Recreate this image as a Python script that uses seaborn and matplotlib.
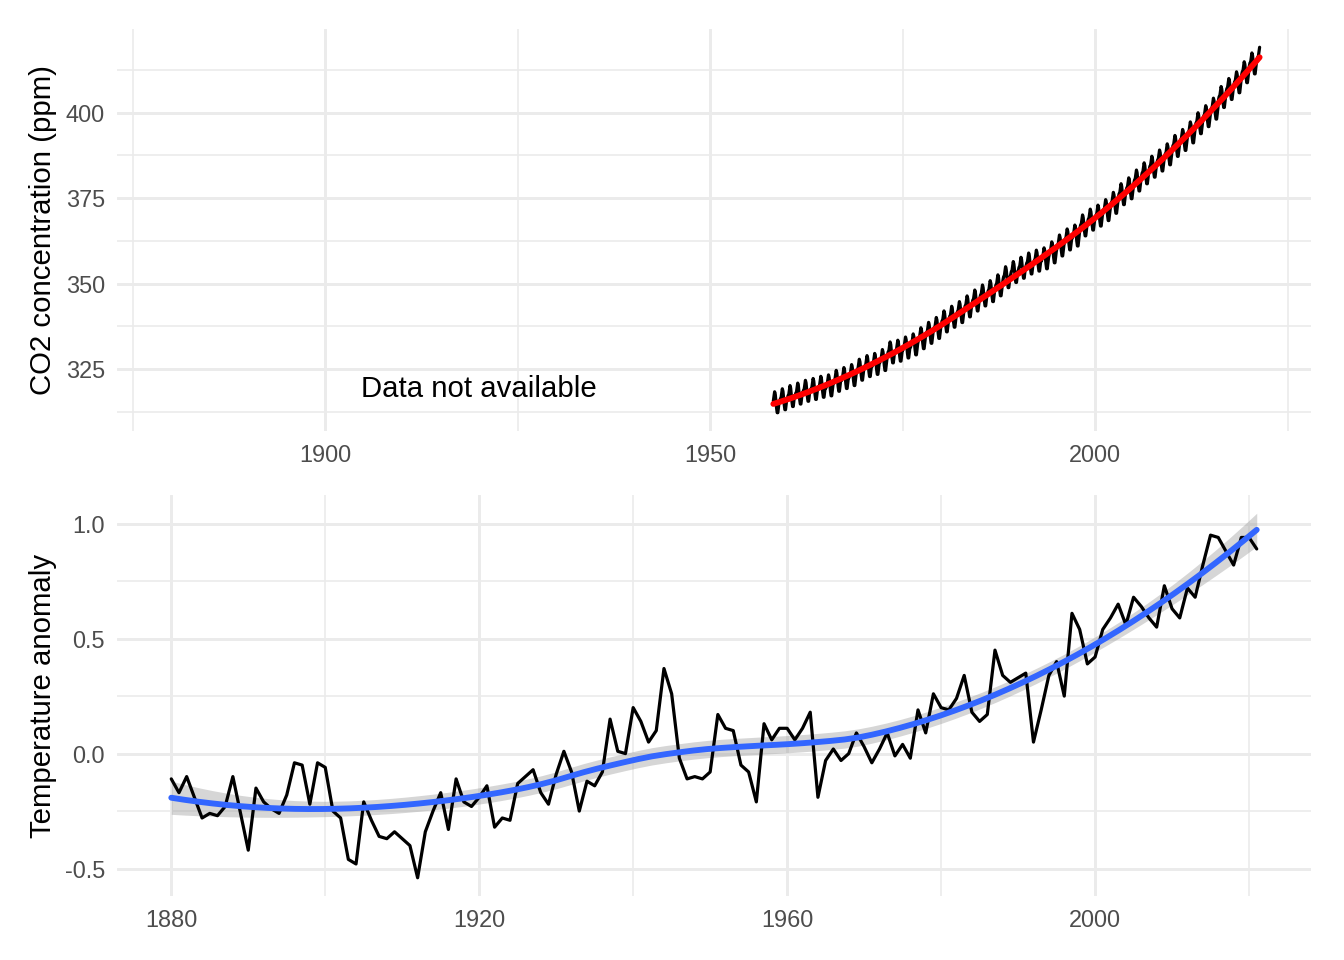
import numpy as np
import pandas as pd
import matplotlib
matplotlib.use("Agg")
import matplotlib.pyplot as plt
from matplotlib.ticker import FixedLocator
import seaborn as sns

# --- Data ---
# Annual temperature anomaly, 1880-2021
temp_years = list(range(1880, 2022))
temp_anomaly = [
    -0.11, -0.17, -0.10, -0.19, -0.28, -0.26, -0.27, -0.23, -0.10, -0.26,  # 1880s
    -0.42, -0.15, -0.21, -0.24, -0.26, -0.18, -0.04, -0.05, -0.22, -0.04,  # 1890s
    -0.06, -0.25, -0.28, -0.46, -0.48, -0.21, -0.29, -0.36, -0.37, -0.34,  # 1900s
    -0.37, -0.40, -0.54, -0.34, -0.25, -0.17, -0.33, -0.11, -0.21, -0.23,  # 1910s
    -0.19, -0.14, -0.32, -0.28, -0.29, -0.13, -0.10, -0.07, -0.17, -0.22,  # 1920s
    -0.09, 0.01, -0.08, -0.25, -0.12, -0.14, -0.08, 0.15, 0.01, 0.00,      # 1930s
    0.20, 0.14, 0.05, 0.10, 0.37, 0.26, -0.02, -0.11, -0.10, -0.11,        # 1940s
    -0.08, 0.17, 0.11, 0.10, -0.05, -0.08, -0.21, 0.13, 0.06, 0.11,        # 1950s
    0.11, 0.06, 0.11, 0.18, -0.19, -0.03, 0.02, -0.03, 0.00, 0.09,         # 1960s
    0.03, -0.04, 0.02, 0.09, -0.01, 0.04, -0.02, 0.19, 0.09, 0.26,         # 1970s
    0.20, 0.19, 0.24, 0.34, 0.18, 0.14, 0.17, 0.45, 0.34, 0.31,            # 1980s
    0.33, 0.35, 0.05, 0.19, 0.34, 0.40, 0.25, 0.61, 0.54, 0.39,            # 1990s
    0.42, 0.54, 0.59, 0.65, 0.56, 0.68, 0.64, 0.59, 0.55, 0.73,            # 2000s
    0.63, 0.59, 0.72, 0.68, 0.82, 0.95, 0.94, 0.88, 0.82, 0.94,            # 2010s
    0.94, 0.89,                                                            # 2020s
]

# Mauna Loa CO2: annual means (ppm) and typical monthly offset from the annual mean
co2_years = list(range(1958, 2022))
co2_annual = [
    315.10, 315.98, 316.91, 317.64, 318.45, 318.99, 319.62, 320.04, 321.37, 322.18,
    323.05, 324.62, 325.68, 326.32, 327.46, 329.68, 330.19, 331.12, 332.03, 333.84,
    335.41, 336.84, 338.76, 340.12, 341.48, 343.15, 344.87, 346.35, 347.61, 349.31,
    351.69, 353.20, 354.45, 355.70, 356.54, 357.21, 358.96, 360.97, 362.74, 363.88,
    366.84, 368.54, 369.71, 371.32, 373.45, 375.98, 377.70, 379.98, 382.09, 384.02,
    385.83, 387.64, 390.10, 391.85, 394.06, 396.74, 398.81, 401.01, 404.41, 406.76,
    408.72, 411.66, 414.24, 415.90,
]
co2_month_offset = [-0.61, 0.31, 0.53, 1.88, 3.22, 2.48, 0.33, -1.49, -2.90, -2.91, -1.17, 0.32]
co2_first_month = 3   # record starts March 1958
co2_last_month = 5    # and ends May 2021

annotation_text = "Data not available"

# --- Build tables ---
temp_df = pd.DataFrame({"year": temp_years, "temp_anomaly": temp_anomaly})

rows = []
for yr, mean in zip(co2_years, co2_annual):
    for m, off in enumerate(co2_month_offset, start=1):
        if yr == co2_years[0] and m < co2_first_month:
            continue
        if yr == co2_years[-1] and m > co2_last_month:
            continue
        rows.append({"date": yr + (m - 0.5) / 12, "co2": mean + off})
co2_df = pd.DataFrame(rows)


def loess_matrix(x, x0s, span=0.75):
    """Operator matrix of a local quadratic loess fit (tricube weights)."""
    n = len(x)
    q = int(np.floor(n * span))
    L = np.zeros((len(x0s), n))
    for i, x0 in enumerate(x0s):
        d = np.abs(x - x0)
        h = np.sort(d)[q - 1]
        w = np.clip(1 - (d / h) ** 3, 0, None) ** 3
        X = np.column_stack([np.ones(n), x - x0, (x - x0) ** 2])
        XW = X * w[:, None]
        L[i] = np.linalg.solve(X.T @ XW, XW.T)[0]
    return L


def smooth(x, y, n_out=80, se=False):
    x = np.asarray(x, float)
    y = np.asarray(y, float)
    grid = np.linspace(x.min(), x.max(), n_out)
    L_grid = loess_matrix(x, grid)
    fit = L_grid @ y
    if not se:
        return grid, fit, None, None
    L_data = loess_matrix(x, x)
    resid = y - L_data @ y
    M = np.eye(len(x)) - L_data
    delta1 = np.trace(M.T @ M)
    s = np.sqrt(np.sum(resid ** 2) / delta1)
    se_fit = s * np.sqrt(np.sum(L_grid ** 2, axis=1))
    t = 1.98
    return grid, fit, fit - t * se_fit, fit + t * se_fit


co2_x, co2_fit, _, _ = smooth(co2_df["date"], co2_df["co2"])
tmp_x, tmp_fit, tmp_lo, tmp_hi = smooth(temp_df["year"], temp_df["temp_anomaly"], se=True)


def expand(lo, hi, mult=0.05):
    pad = (hi - lo) * mult
    return lo - pad, hi + pad


# --- Style ---
sns.set_theme(style="white")
plt.rcParams["font.family"] = ["Liberation Sans", "DejaVu Sans"]
GRID = "#EBEBEB"
TICK_COL = "#4D4D4D"

fig = plt.figure(figsize=(7, 5), dpi=192)
ax_co2 = fig.add_axes([117 / 1344, 1 - 431 / 960, 1194 / 1344, 402 / 960])
ax_tmp = fig.add_axes([117 / 1344, 1 - 896 / 960, 1194 / 1344, 401 / 960])

xlim = expand(min(temp_years), max(temp_years))


def style_axis(ax, xmajor, xminor, ymajor, yminor, ylabel):
    ax.set_facecolor("white")
    for sp in ax.spines.values():
        sp.set_visible(False)
    ax.xaxis.set_major_locator(FixedLocator(xmajor))
    ax.xaxis.set_minor_locator(FixedLocator(xminor))
    ax.yaxis.set_major_locator(FixedLocator(ymajor))
    ax.yaxis.set_minor_locator(FixedLocator(yminor))
    ax.grid(which="major", color=GRID, linewidth=1.1)
    ax.grid(which="minor", color=GRID, linewidth=0.6)
    ax.set_axisbelow(True)
    ax.tick_params(which="both", length=0, labelsize=8.8, labelcolor=TICK_COL)
    ax.tick_params(axis="y", pad=4.5)
    ax.tick_params(axis="x", pad=5)
    ax.set_xlabel("")
    ax.set_ylabel(ylabel, fontsize=11, color="black")
    ax.yaxis.set_label_coords(-0.05, 0.5)


# Top panel: CO2
sns.lineplot(data=co2_df, x="date", y="co2", ax=ax_co2, color="black", linewidth=1.2)
sns.lineplot(x=co2_x, y=co2_fit, ax=ax_co2, color="red", linewidth=2.2)
ax_co2.text(1920, 319.2, annotation_text, fontsize=11, ha="center", va="center", color="black")
ax_co2.set_xlim(xlim)
ax_co2.set_ylim(expand(min(co2_df["co2"].min(), co2_fit.min()), max(co2_df["co2"].max(), co2_fit.max())))
style_axis(ax_co2, [1900, 1950, 2000], [1875, 1925, 1975, 2025],
           [325, 350, 375, 400], [312.5, 337.5, 362.5, 387.5, 412.5],
           "CO2 concentration (ppm)")

# Bottom panel: temperature anomaly
ax_tmp.fill_between(tmp_x, tmp_lo, tmp_hi, color="#999999", alpha=0.4, linewidth=0)
sns.lineplot(data=temp_df, x="year", y="temp_anomaly", ax=ax_tmp, color="black", linewidth=1.2)
sns.lineplot(x=tmp_x, y=tmp_fit, ax=ax_tmp, color="#3366FF", linewidth=2.2)
ax_tmp.set_xlim(xlim)
ax_tmp.set_ylim(expand(min(temp_df["temp_anomaly"].min(), tmp_lo.min()),
                       max(temp_df["temp_anomaly"].max(), tmp_hi.max())))
style_axis(ax_tmp, [1880, 1920, 1960, 2000], [1900, 1940, 1980, 2020],
           [-0.5, 0.0, 0.5, 1.0], [-0.25, 0.25, 0.75],
           "Temperature anomaly")
ax_tmp.set_yticklabels(["-0.5", "0.0", "0.5", "1.0"])

fig.savefig("out.png", dpi=192, facecolor="white")
plt.close(fig)
